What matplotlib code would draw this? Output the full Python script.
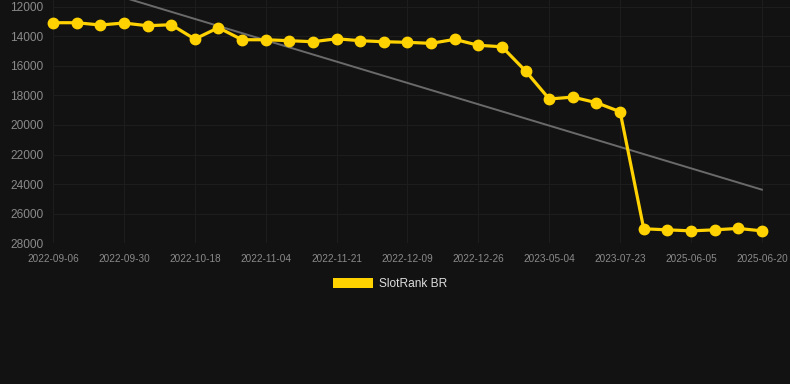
import numpy as np
import matplotlib
matplotlib.use("Agg")
import matplotlib.pyplot as plt
from matplotlib.patches import Patch

plt.rcParams['font.family'] = ['Liberation Sans', 'DejaVu Sans']

# data (rank, lower is better -> axis inverted)
dates = ['2022-09-06', '2022-09-30', '2022-10-18', '2022-11-04', '2022-11-21', '2022-12-09',
         '2022-12-26', '2023-05-04', '2023-07-23', '2025-06-05', '2025-06-20']
rank = [13095, 13095, 13250, 13115, 13300, 13230, 14200, 13430, 14245, 14245,
        14310, 14380, 14180, 14310, 14380, 14420, 14490, 14220, 14620, 14720,
        16360, 18250, 18120, 18500, 19110, 27020, 27090, 27160, 27090, 26995, 27160]
series_name = 'SlotRank BR'

bg = '#121212'
yellow = '#FFD200'

x = np.arange(len(rank))
fig = plt.figure(figsize=(7.9, 3.84), dpi=100, facecolor=bg)
ax = fig.add_axes([53 / 790, 1 - 243.3 / 384, 1 - 53 / 790, 243.3 / 384])
ax.set_facecolor(bg)

# trend line (least squares)
k, b = np.polyfit(x, rank, 1)
ax.plot(x, k * x + b, color='#6a6a6a', lw=1.4, zorder=2)

ax.plot(x, rank, color=yellow, lw=2.3, marker='o', ms=7.5, zorder=3, clip_on=False)

ax.set_xlim(0, (790 - 53) / 23.63)
ax.set_ylim(28000, 11560)
ax.set_yticks(np.arange(12000, 28001, 2000))
ax.set_xticks(x[::3])
ax.set_xticklabels(dates)
ax.grid(True, color='#1d1d1d', lw=0.8)
ax.set_axisbelow(True)
for s in ax.spines.values():
    s.set_visible(False)
ax.tick_params(axis='y', length=0, pad=7, labelsize=8.6, labelcolor='#8a8a8a')
ax.tick_params(axis='x', length=0, pad=8, labelsize=7.2, labelcolor='#8a8a8a')

leg = fig.legend(handles=[Patch(facecolor=yellow, label=series_name)],
                 loc='center', bbox_to_anchor=(390 / 790, 1 - 284 / 384),
                 frameon=False, fontsize=8.6, labelcolor='#dddddd',
                 handlelength=3.4, handleheight=1.0, handletextpad=0.5)

fig.savefig('out.png', facecolor=bg)
